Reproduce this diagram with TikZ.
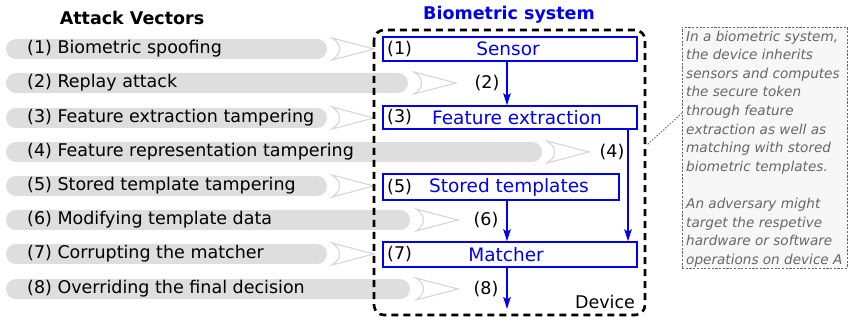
\documentclass[tikz,border=0pt]{standalone}
\usepackage{fontspec}
\setmainfont{DejaVu Sans}
\usetikzlibrary{arrows.meta}
\definecolor{bargray}{HTML}{DEDEDE}
\definecolor{chevgray}{HTML}{D6D6D6}
\definecolor{bblue}{HTML}{0000F0}
\definecolor{notegray}{HTML}{666666}
\definecolor{notefill}{HTML}{F7F7F7}
\begin{document}
\begin{tikzpicture}[x=1pt,y=-1pt,
  bar/.style={fill=bargray, rounded corners=10pt},
  chevron/.pic={\draw[chevgray, line width=1.1pt, line join=miter] (0,-11) .. controls (10,-5) and (10,5) .. (0,11) -- (42,0) -- cycle;},
  rowtext/.style={anchor=west, inner sep=0pt, font=\fontsize{17.5}{21}\selectfont},
  title/.style={inner sep=0pt, font=\fontsize{17.5}{21}\selectfont\bfseries},
  bbox/.style={draw=bblue, line width=1.4pt, inner sep=0pt, minimum width=254pt},
  btext/.style={inner sep=0pt, text=bblue, font=\fontsize{18.5}{22}\selectfont},
  num/.style={inner sep=0pt, font=\fontsize{17.5}{21}\selectfont},
  barrow/.style={draw=bblue, line width=1.8pt, -{Stealth[length=12pt,width=7.5pt,inset=2.5pt]}},
  devbox/.style={draw=black, line width=2.6pt, dash pattern=on 7pt off 5pt, rounded corners=10pt},
  notebox/.style={draw=notegray, line width=0.8pt, dash pattern=on 2.2pt off 1.5pt, fill=notefill, inner sep=0pt},
  notetext/.style={anchor=north west, inner sep=0pt, align=left, text=notegray, font=\fontsize{13.6}{18.6}\selectfont\itshape}
]
\useasboundingbox (0,0) rectangle (848,320);

% titles
\node[title] (tav) at (132,18) {Attack Vectors};
\node[title, text=bblue] (tbs) at (509,15) {Biometric system};

% attack bars
\fill[bar] (6,39) rectangle (327,59);
\fill[bar] (6,73) rectangle (408,93);
\fill[bar] (6,108) rectangle (327,128);
\fill[bar] (6,142) rectangle (542,162);
\fill[bar] (6,176) rectangle (327,196);
\fill[bar] (6,210) rectangle (410,230);
\fill[bar] (6,244) rectangle (327,264);
\fill[bar] (6,279) rectangle (410,299);

\pic at (332,49) {chevron};
\pic at (414,83) {chevron};
\pic at (332,118) {chevron};
\pic at (547,152) {chevron};
\pic at (332,186) {chevron};
\pic at (416,220) {chevron};
\pic at (332,254) {chevron};
\pic at (416,289) {chevron};

\node[rowtext] (r1) at (27,49) {(1) Biometric spoofing};
\node[rowtext] (r2) at (27,83) {(2) Replay attack};
\node[rowtext] (r3) at (27,118) {(3) Feature extraction tampering};
\node[rowtext] (r4) at (27,152) {(4) Feature representation tampering};
\node[rowtext] (r5) at (27,186) {(5) Stored template tampering};
\node[rowtext] (r6) at (27,220) {(6) Modifying template data};
\node[rowtext] (r7) at (27,254) {(7) Corrupting the matcher};
\node[rowtext] (r8) at (27,289) {(8) Overriding the final decision};

% device box
\draw[devbox] (374,30) rectangle (645,315);
\node[num] (dev) at (605,302) {Device};

% blue boxes
\node[bbox, minimum height=24pt] (sensor) at (510,49) {};
\node[bbox, minimum height=23pt] (fe) at (510,117.5) {};
\node[bbox, minimum height=26pt, minimum width=236pt] (st) at (501,187) {};
\node[bbox, minimum height=25pt] (mat) at (510,254.5) {};

\node[btext] (ts) at (508,49) {Sensor};
\node[btext] (tfe) at (517,117.5) {Feature extraction};
\node[btext] (tst) at (509,187) {Stored templates};
\node[btext] (tm) at (506,254.5) {Matcher};

\node[num, anchor=west] (n1) at (387,49) {(1)};
\node[num, anchor=west] (n3) at (387,117.5) {(3)};
\node[num, anchor=west] (n5) at (387,187) {(5)};
\node[num, anchor=west] (n7) at (387,254.5) {(7)};

% arrows
\coordinate (xa) at (507,0);
\coordinate (xb) at (628,0);
\coordinate (out) at (507,309);
\draw[barrow] (sensor.south -| xa) -- (fe.north -| xa);
\draw[barrow] (fe.south -| xb) -- (mat.north -| xb);
\draw[barrow] (st.south -| xa) -- (mat.north -| xa);
\draw[barrow] (mat.south -| xa) -- (out);

\node[num] (l2) at (487,83) {(2)};
\node[num] (l4) at (612,152) {(4)};
\node[num] (l6) at (486,220) {(6)};
\node[num] (l8) at (486,289) {(8)};

% note
\node[notebox, minimum width=165pt, minimum height=241pt] (note) at (764.5,147.5) {};
\node[notetext] (nt) at (686,30.5) {In a biometric system,\\the device inherits\\sensors and computes\\the secure token\\through feature\\extraction as well as\\matching with stored\\biometric templates.\\[18.6pt]An adversary might\\target the respetive\\hardware or software\\operations on device A};
\coordinate (nc) at (682,113);
\coordinate (dc) at (647,145);
\draw[notegray, line width=0.9pt, dash pattern=on 1.5pt off 1.5pt] (nc) -- (dc);
\end{tikzpicture}
\end{document}
